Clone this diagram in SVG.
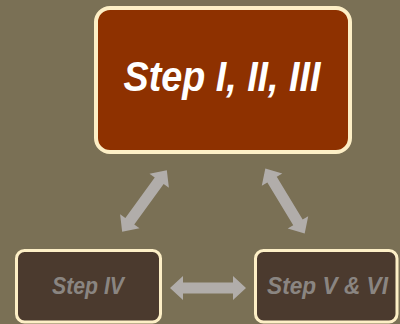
<svg xmlns="http://www.w3.org/2000/svg" xmlns:xlink="http://www.w3.org/1999/xlink" width="400" height="324" viewBox="0 0 400 324">
<style>
.box{stroke:#FDEFC6;}
.top{fill:#8E3100;stroke-width:4;}
.low{fill:#4B3A2E;stroke-width:3;}
.t{font-family:"Liberation Sans",Arial,sans-serif;font-weight:bold;font-style:italic;text-anchor:middle;}
.tt{fill:#FFFFFF;font-size:42px;}
.lt{fill:#8A8581;font-size:23px;}
.arr{fill:#B1ADAA;}
</style>
<defs>
<path id="dbl" d="M -38 0 L -25 -12 L -25 -5.5 L 25 -5.5 L 25 -12 L 38 0 L 25 12 L 25 5.5 L -25 5.5 L -25 12 Z"/>
</defs>
<rect width="400" height="324" fill="#7A7055"/>
<g id="connectors" class="arr">
<use xlink:href="#dbl" transform="translate(144.5,201) rotate(-54)"/>
<use xlink:href="#dbl" transform="translate(285,201) rotate(58.8)"/>
<use xlink:href="#dbl" transform="translate(208,288)"/>
</g>
<g id="step123">
<rect class="box top" x="96" y="8" width="254" height="144" rx="14"/>
<text class="t tt" x="222" y="91" textLength="197" lengthAdjust="spacingAndGlyphs">Step I, II, III</text>
</g>
<g id="step4">
<rect class="box low" x="16.5" y="250.5" width="144" height="71.5" rx="8"/>
<text class="t lt" x="88" y="293.5" textLength="72" lengthAdjust="spacingAndGlyphs">Step IV</text>
</g>
<g id="step56">
<rect class="box low" x="255.5" y="250.5" width="141.5" height="71.5" rx="8"/>
<text class="t lt" x="327.5" y="293.5" textLength="121" lengthAdjust="spacingAndGlyphs">Step V &amp; VI</text>
</g>
</svg>
